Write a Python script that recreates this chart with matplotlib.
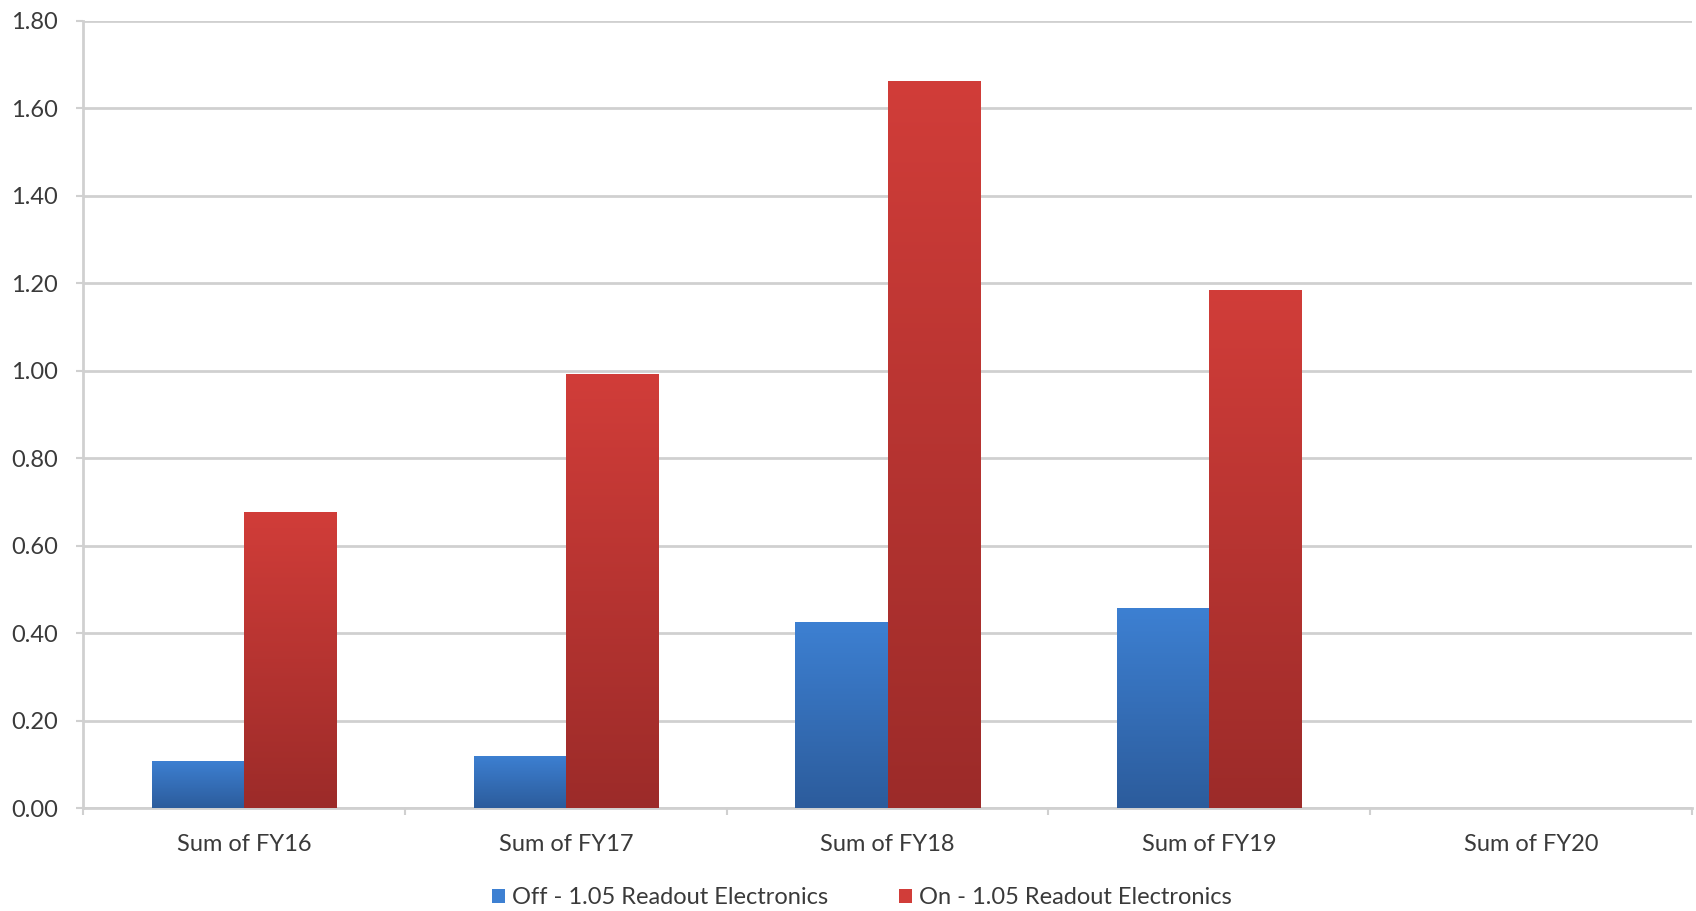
import numpy as np
import matplotlib
matplotlib.use("Agg")
import matplotlib.pyplot as plt
from matplotlib.colors import LinearSegmentedColormap

categories = ["Sum of FY16", "Sum of FY17", "Sum of FY18", "Sum of FY19", "Sum of FY20"]
off_vals = [0.108, 0.119, 0.425, 0.457, 0.0]
on_vals = [0.677, 0.992, 1.663, 1.184, 0.0]
series_names = ["Off - 1.05 Readout Electronics", "On - 1.05 Readout Electronics"]
yticks = [0.0, 0.2, 0.4, 0.6, 0.8, 1.0, 1.2, 1.4, 1.6, 1.8]

plt.rcParams['font.family'] = ['Lato', 'DejaVu Sans']
text_color = "#3a3a3a"

fig = plt.figure(figsize=(16.96, 9.11), dpi=100)
ax = fig.add_axes([0.049, 0.113, 0.9486, 0.864])

x = np.arange(len(categories))
w = 0.286
blue_top, blue_bot = "#3d80d2", "#2c5c9c"
red_top, red_bot = "#d13d39", "#9c2b29"

b1 = ax.bar(x - w / 2, off_vals, w, color=blue_top, label=series_names[0], zorder=3)
b2 = ax.bar(x + w / 2, on_vals, w, color=red_top, label=series_names[1], zorder=3)

grad = np.linspace(1, 0, 256).reshape(-1, 1)
for bars, top, bot in [(b1, blue_top, blue_bot), (b2, red_top, red_bot)]:
    cmap = LinearSegmentedColormap.from_list("g", [bot, top])
    for p in bars:
        h = p.get_height()
        if h <= 0:
            continue
        x0 = p.get_x()
        im = ax.imshow(grad, cmap=cmap, aspect="auto", vmin=0, vmax=1,
                       extent=[x0, x0 + p.get_width(), 0, h], zorder=4)
        im.set_clip_path(p)
        p.set_facecolor("none")
        p.set_edgecolor("none")

ax.set_xlim(-0.5, len(categories) - 0.5)
ax.set_ylim(0, 1.8)
ax.set_yticks(yticks)
ax.set_yticklabels([f"{v:.2f}" for v in yticks])
ax.yaxis.grid(True, color="#d0d0d0", linewidth=2, zorder=0)
ax.set_axisbelow(True)

for s in ["top", "right"]:
    ax.spines[s].set_visible(False)
ax.spines["left"].set_color("#d0d0d0")
ax.spines["left"].set_linewidth(2)
ax.spines["bottom"].set_color("#d0d0d0")
ax.spines["bottom"].set_linewidth(2)

ax.set_xticks(x)
ax.set_xticklabels(categories)
ax.set_xticks(np.arange(len(categories) + 1) - 0.5, minor=True)
ax.tick_params(axis="x", which="major", length=0, pad=19, labelsize=17, labelcolor=text_color)
ax.tick_params(axis="x", which="minor", length=5, width=1.5, color="#d0d0d0")
ax.tick_params(axis="y", length=5, width=1.5, color="#d0d0d0", pad=13, labelsize=17, labelcolor=text_color)

leg = fig.legend(handles=[b1, b2], labels=series_names, loc="center", bbox_to_anchor=(0.508, 0.0145),
                 ncol=2, frameon=False, fontsize=17, handlelength=0.55, handleheight=0.55,
                 handletextpad=0.3, columnspacing=3.0, labelcolor=text_color)
leg.legend_handles[0].set_facecolor(blue_top)
leg.legend_handles[1].set_facecolor(red_top)

fig.savefig("out.png", dpi=100)
